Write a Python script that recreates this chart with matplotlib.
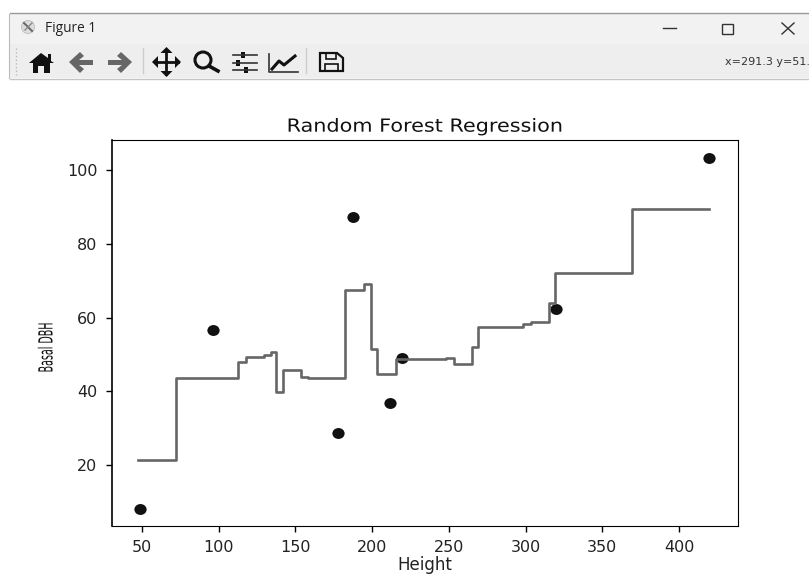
import matplotlib
matplotlib.use('Agg')
from matplotlib import pyplot as plt
from matplotlib.patches import Polygon, Rectangle, Circle
from matplotlib.patheffects import AbstractPathEffect
from matplotlib.markers import MarkerStyle
from matplotlib.transforms import Affine2D
import numpy as np

height = [48.7, 96.3, 177.8, 187.6, 211.7, 219.5, 320, 419.7]
dbh = [8.2, 56.6, 28.8, 87.2, 37, 49, 62.3, 103.3]

grid_x = [47.4, 72.1, 112.8, 117.8, 129.2, 133.9, 137.2, 142, 153.6, 158.2, 182.3, 194.7, 199.1,
          203.3, 215.4, 248.1, 253.4, 264.9, 269, 298.5, 303.3, 315.4, 319.2, 369.4, 419.5]
grid_y = [21.4, 43.7, 47.9, 49.4, 49.9, 50.7, 39.8, 45.7, 43.9, 43.7, 67.6, 69, 51.4, 44.6,
          48.7, 49.1, 47.3, 52.1, 57.4, 58.2, 58.7, 64, 72, 89.3, 89.3]

W, H = 809, 575


class Squeeze(AbstractPathEffect):
    # the screenshot is stretched, so some text needs scaling around its centre
    def __init__(self, cx, cy, sx, sy):
        super().__init__()
        self.t = Affine2D().translate(-cx, -cy).scale(sx, sy).translate(cx, cy)

    def draw_path(self, renderer, gc, tpath, affine, rgbFace=None):
        renderer.draw_path(gc, tpath, affine + self.t, rgbFace)


fig = plt.figure(figsize=(W/100, H/100), dpi=100)

ax = fig.add_axes([111.5/W, 1-526/H, 626.2/W, 386/H])
dot = MarkerStyle('o', transform=Affine2D().scale(1.12, 1))
ax.scatter(height, dbh, color='#111111', s=62, marker=dot, linewidths=0, zorder=2)
ax.step(grid_x, grid_y, where='post', color='#666666', lw=1.9, zorder=3)
ax.set_xlim(30.1, 438.3)
ax.set_ylim(3.55, 108.1)
ax.set_xticks([50, 100, 150, 200, 250, 300, 350, 400])
ax.set_yticks([20, 40, 60, 80, 100])
ax.tick_params(labelsize=11.5, length=4, width=1, pad=6, labelcolor='#222222')
ax.spines['left'].set_linewidth(1.2)
ttl = ax.set_title('Random Forest Regression', fontsize=13, pad=6, color='#111111')
ttl.set_path_effects([Squeeze(424.6, 0, 1.15, 1)])
ax.set_xlabel('Height', fontsize=12, labelpad=1, color='#222222')
yl = fig.text(47/W, 1-347.5/H, 'Basal DBH', rotation=90, ha='center', va='center', fontsize=14,
              color='#111111')
yl.set_path_effects([Squeeze(47, H-347.5, 1, 0.49)])

# window frame and toolbar, in pixel coordinates
ch = fig.add_axes([0, 0, 1, 1], zorder=5)
ch.set_xlim(0, W)
ch.set_ylim(H, 0)
ch.axis('off')
ch.add_patch(Rectangle((10, 13), W-10, 31, fc='#f2f2f2', ec='none'))
ch.add_patch(Rectangle((10, 44), W-10, 34, fc='#eeeeee', ec='none'))
ch.plot([10, W], [12.5, 12.5], color='#999999', lw=1)
ch.plot([10, W], [78.5, 78.5], color='#c4c4c4', lw=1)
ch.plot([9.5, 9.5], [14, 78], color='#bbbbbb', lw=0.8)
ch.add_patch(Circle((28, 27), 6.5, fc='#dddddd', ec='#bbbbbb', lw=0.6))
ch.plot([24, 32], [23, 31], color='#666666', lw=1.4)
ch.plot([32, 25], [23, 30], color='#888888', lw=1.0)
ch.text(45, 28.5, 'Figure 1', fontsize=9.8, va='center', ha='left', family='Open Sans', color='#222222')

# window buttons
ch.plot([663, 676], [28, 28], color='#333333', lw=1)
ch.add_patch(Rectangle((722.5, 23.5), 11, 10, fc='none', ec='#333333', lw=1))
ch.plot([782, 794], [23, 34], color='#333333', lw=1)
ch.plot([794, 782], [23, 34], color='#333333', lw=1)

# toolbar icons
ch.plot([16, 16], [48, 75], color='#bbbbbb', lw=1, ls=':')
ch.add_patch(Polygon([[29, 63], [41, 53], [48, 58], [48, 54], [51, 54], [51, 61], [54, 63], [50, 63],
                      [50, 73], [44, 73], [44, 66], [38, 66], [38, 73], [33, 73], [33, 63]],
                     fc='#111111', ec='none'))
ch.add_patch(Polygon([[69, 62], [80, 52], [84, 56], [79, 60], [93, 60], [93, 65], [79, 65], [84, 69], [80, 73]],
                     fc='#666666', ec='none'))
ch.add_patch(Polygon([[132, 62], [121, 52], [117, 56], [122, 60], [108, 60], [108, 65], [122, 65], [117, 69], [121, 73]],
                     fc='#666666', ec='none'))
ch.plot([143, 143], [48, 73], color='#cccccc', lw=1)
ch.plot([155, 178], [62, 62], color='#111111', lw=2)
ch.plot([166.5, 166.5], [50, 74], color='#111111', lw=2)
ch.add_patch(Polygon([[152, 62], [158, 56], [158, 68]], fc='#111111', ec='none'))
ch.add_patch(Polygon([[181, 62], [175, 56], [175, 68]], fc='#111111', ec='none'))
ch.add_patch(Polygon([[166.5, 47], [160.5, 53], [172.5, 53]], fc='#111111', ec='none'))
ch.add_patch(Polygon([[166.5, 77], [160.5, 71], [172.5, 71]], fc='#111111', ec='none'))
ch.add_patch(Circle((203, 60), 8, fc='none', ec='#111111', lw=2.2))
ch.plot([209, 218], [66, 71], color='#111111', lw=2.6)
for yy, xx in zip([55, 63, 70], [243, 238, 246]):
    ch.plot([233, 257], [yy, yy], color='#333333', lw=1.2)
    ch.add_patch(Rectangle((xx-2, yy-3), 4, 6, fc='#111111', ec='none'))
ch.plot([269, 269, 298], [54, 72, 72], color='#333333', lw=1.2)
ch.plot([272, 279, 284, 295], [69, 61, 65, 56], color='#111111', lw=2.2)
ch.plot([306, 306], [48, 73], color='#cccccc', lw=1)
ch.add_patch(Polygon([[320, 53], [337, 53], [343, 58], [343, 71], [320, 71]], fc='none', ec='#111111', lw=1.6))
ch.add_patch(Rectangle((326, 53), 10, 6, fc='none', ec='#111111', lw=1.2))
ch.add_patch(Rectangle((325, 64), 13, 7, fc='none', ec='#111111', lw=1.2))
ch.text(725, 62, 'x=291.3 y=51.', fontsize=8, va='center', ha='left', color='#333333', clip_on=True)

fig.savefig('out.png', dpi=100)
